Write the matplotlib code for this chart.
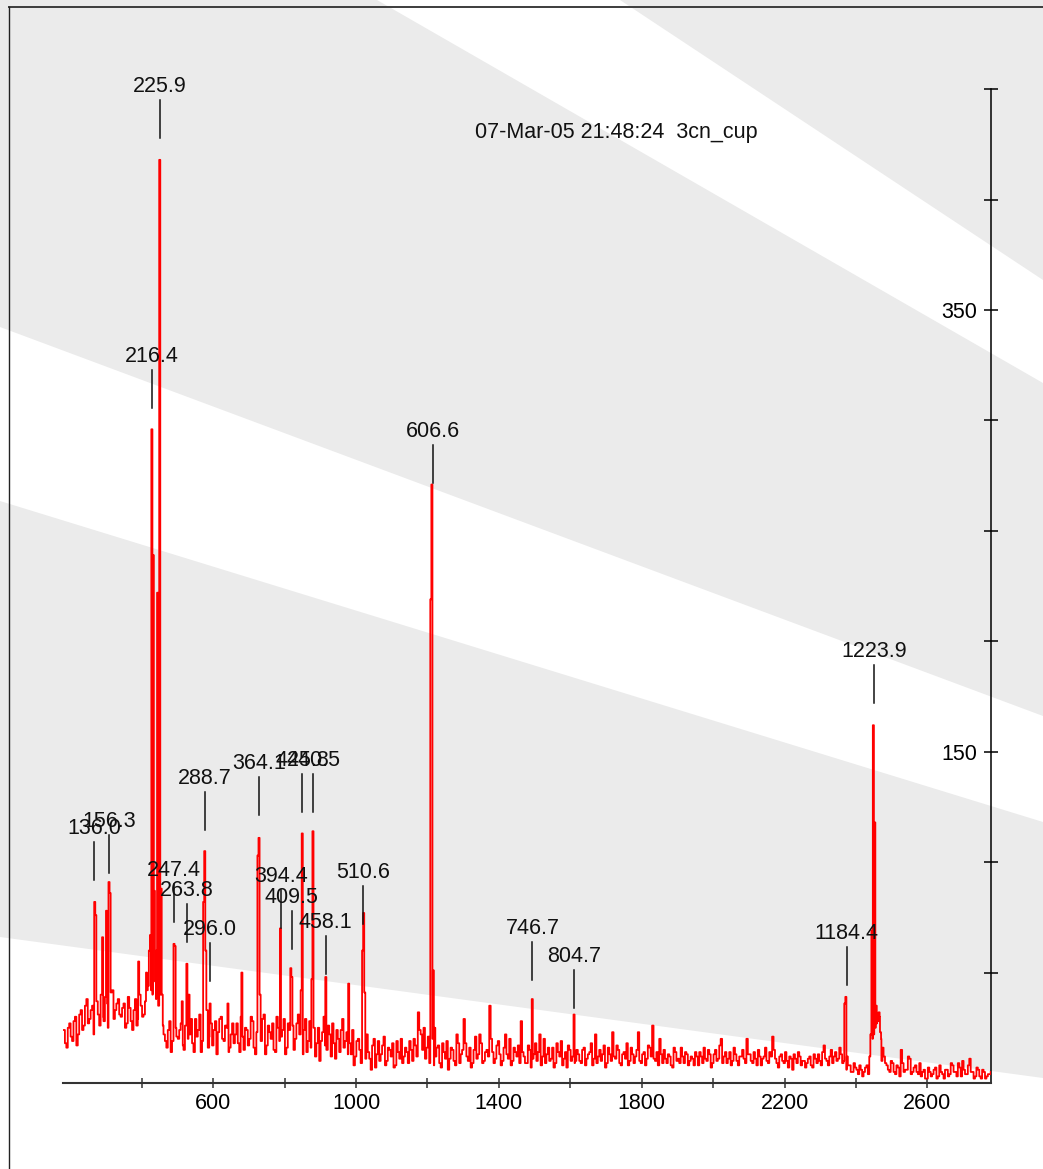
import numpy as np
import matplotlib
matplotlib.use("Agg")
import matplotlib.pyplot as plt
from matplotlib.patches import Polygon
from matplotlib.lines import Line2D

plt.rcParams['font.family'] = ['Liberation Sans', 'DejaVu Sans']

# ---- data ----
title = "07-Mar-05 21:48:24  3cn_cup"

# baseline trace: counts at channels 181, 189, 197, ... (a) and 185, 193, 201, ... (b)
base_start = 181
base_step = 4
baseline_a = [
    24, 16, 27, 19, 30, 22, 33, 26, 38, 29, 35, 24, 31, 40, 28, 36, 30, 42, 33, 38,
    30, 36, 27, 34, 24, 38, 29, 35, 31, 42, 45, 40, 38, 35, 30, 22, 16, 28, 19, 25,
    20, 27, 15, 31, 22, 18, 29, 24, 14, 26, 33, 21, 17, 28, 23, 30, 19, 25, 16, 27,
    22, 18, 30, 15, 24, 20, 28, 13, 26, 19, 31, 17, 23, 27, 14, 25, 21, 29, 16, 24,
    26, 20, 31, 17, 24, 14, 28, 21, 12, 25, 19, 30, 15, 22, 27, 11, 20, 24, 16, 23,
    18, 24, 12, 20, 9, 16, 22, 11, 17, 7, 19, 13, 21, 10, 15, 18, 8, 14, 20, 12,
    14, 19, 10, 17, 32, 22, 25, 16, 9, 20, 12, 17, 7, 14, 19, 11, 15, 8, 18, 13,
    29, 12, 16, 9, 21, 13, 18, 10, 15, 35, 14, 11, 19, 8, 16, 13, 20, 10, 14, 17,
    28, 12, 9, 15, 11, 18, 14, 8, 20, 13, 10, 16, 9, 14, 19, 11, 7, 15, 12, 10,
    13, 9, 16, 11, 14, 8, 22, 12, 10, 17, 9, 13, 23, 11, 15, 8, 14, 18, 10, 13,
    12, 23, 9, 14, 11, 16, 26, 10, 8, 13, 15, 9, 12, 7, 14, 11, 16, 9, 13, 10,
    11, 14, 8, 12, 16, 10, 13, 9, 15, 11, 20, 12, 9, 14, 10, 13, 8, 12, 11, 20,
    13, 9, 11, 15, 8, 12, 10, 14, 21, 11, 7, 13, 9, 10, 12, 6, 11, 14, 8, 10,
    9, 12, 7, 11, 13, 8, 17, 10, 12, 9, 14, 11, 13, 10, 6, 8, 5, 7, 4, 6,
    5, 8, 12, 20, 25, 28, 20, 12, 8, 5, 9, 4, 7, 15, 5, 6, 11, 5, 8, 4,
    3, 6, 2, 5, 4, 7, 3, 5, 2, 6, 4, 8, 5, 9, 3, 6, 4, 11, 5, 3,
    6, 2, 5, 3, 4,
]
baseline_b = [
    18, 25, 21, 28, 17, 31, 24, 35, 27, 33, 22, 37, 26, 30, 39, 25, 41, 29, 36, 31,
    34, 25, 39, 28, 33, 26, 40, 30, 37, 44, 42, 48, 36, 40, 26, 19, 24, 14, 27, 21,
    24, 17, 26, 20, 29, 14, 21, 31, 19, 23, 16, 27, 24, 13, 29, 20, 26, 14, 22, 18,
    27, 14, 21, 25, 17, 30, 16, 23, 18, 29, 13, 26, 20, 15, 30, 19, 24, 13, 27, 20,
    15, 27, 22, 13, 29, 19, 16, 25, 18, 10, 23, 17, 26, 12, 18, 24, 14, 29, 19, 13,
    13, 8, 19, 15, 21, 11, 14, 6, 20, 13, 10, 17, 8, 16, 12, 7, 19, 11, 9, 16,
    9, 15, 20, 12, 24, 15, 11, 21, 13, 8, 16, 9, 18, 11, 6, 16, 10, 22, 9, 15,
    18, 10, 7, 15, 11, 22, 9, 14, 12, 20, 9, 17, 13, 10, 22, 11, 8, 16, 12, 9,
    14, 9, 17, 7, 13, 10, 22, 12, 9, 16, 11, 7, 18, 12, 8, 14, 17, 10, 9, 15,
    10, 15, 8, 13, 18, 11, 9, 15, 13, 7, 16, 10, 12, 17, 9, 13, 11, 8, 16, 9,
    15, 10, 13, 8, 17, 12, 11, 14, 20, 9, 11, 13, 8, 16, 10, 9, 12, 14, 8, 12,
    8, 12, 14, 9, 11, 15, 7, 13, 10, 17, 9, 14, 11, 8, 16, 10, 12, 15, 9, 13,
    10, 14, 8, 12, 11, 16, 9, 12, 15, 9, 12, 10, 14, 7, 11, 13, 9, 12, 10, 7,
    11, 8, 13, 9, 10, 14, 11, 8, 15, 12, 10, 16, 9, 13, 8, 5, 9, 6, 8, 3,
    7, 4, 15, 22, 27, 30, 16, 9, 6, 10, 5, 8, 3, 9, 6, 12, 4, 7, 5, 9,
    5, 2, 7, 3, 6, 2, 8, 4, 6, 3, 9, 5, 3, 7, 10, 4, 8, 5, 2, 7,
    3, 6, 2, 4, 5,
]

# narrow peaks on top of the baseline (channel, counts)
spike_ch = [267, 270, 289, 300, 307, 310, 390, 412,
            420, 423, 427, 431, 434, 437, 441, 443, 449, 453, 456,
            489, 492, 512, 525, 531, 572, 575, 578, 590, 640, 679,
            724, 727, 730, 787, 816, 819, 845, 848, 875, 878, 914, 978,
            1017, 1020, 1023, 1208, 1211, 1215, 1219, 1492, 1609,
            2367, 2370, 2374,
            2440, 2443, 2447, 2451, 2455, 2459, 2463, 2467, 2471]
spike_h = [82, 76, 66, 78, 91, 86, 55, 50,
           60, 67, 296, 239, 87, 46, 60, 222, 418, 88, 40,
           63, 62, 37, 54, 40, 82, 105, 60, 36, 36, 50,
           103, 111, 40, 70, 52, 48, 42, 113, 47, 114, 48, 45,
           60, 77, 41, 219, 271, 51, 25, 38, 31,
           36, 39, 12,
           22, 69, 162, 118, 35, 30, 32, 23, 10]

# peak labels: text, channel, level where the marker line starts
peak_labels = ["136.0", "156.3", "216.4", "225.9", "247.4", "263.8", "288.7",
               "296.0", "364.1", "394.4", "409.5", "425.8", "440.5", "458.1",
               "510.6", "606.6", "746.7", "804.7", "1184.4", "1223.9"]
peak_pos = [267.3, 308.5, 428.9, 451.3, 490.5, 526.0, 577.3, 591.3, 728.5,
            789.3, 820.0, 849.8, 879.8, 915.3, 1020.6, 1214.4, 1493.8,
            1610.6, 2374.3, 2450.7]
peak_mark = [91.9, 95.1, 305.6, 427.9, 72.9, 63.8, 114.6, 46.2, 121.4, 70.2,
             60.7, 122.7, 122.7, 49.4, 72.0, 271.5, 46.6, 34.0, 44.4, 172.1]

x_ticks = [600, 1000, 1400, 1800, 2200, 2600]
x_minor = [400, 800, 1200, 1600, 2000, 2400]
y_ticks = [50, 100, 150, 200, 250, 300, 350, 400, 450]
y_labeled = [150, 350]

# ---- build the step trace ----
base = np.column_stack([baseline_a, baseline_b]).ravel().astype(float)
chan = base_start + base_step * np.arange(len(base))
sx = np.array(spike_ch, dtype=float)
sh = np.array(spike_h, dtype=float)
width = 3.0

keep = np.ones(len(chan), bool)
for c in sx:
    keep &= ~((chan >= c) & (chan < c + width))
ret_x = sx + width
inside = np.array([np.any((r >= sx) & (r < sx + width)) for r in ret_x])
ret_x = ret_x[~inside]
idx = np.clip(((ret_x - base_start) // base_step).astype(int), 0, len(base) - 1)
ret_y = base[idx]

tx = np.concatenate([chan[keep], sx, ret_x])
ty = np.concatenate([base[keep], sh, ret_y])
order = np.argsort(tx, kind="stable")
tx, ty = tx[order], ty[order]

# ---- figure ----
W, H = 1043, 1169
fig = plt.figure(figsize=(W / 100, H / 100), dpi=100)
fig.patch.set_facecolor("#ebebeb")


def fp(pts):
    return [(x / W, 1 - y / H) for x, y in pts]


for poly in ([(377, 0), (620, 0), (1043, 280), (1043, 383)],
             [(0, 327), (1043, 716), (1043, 822), (0, 501)],
             [(0, 937), (1043, 1078), (1043, 1169), (0, 1169)]):
    fig.patches.append(Polygon(fp(poly), closed=True, transform=fig.transFigure,
                               facecolor="white", edgecolor="none", zorder=-5))

fig.lines.append(Line2D([9 / W, 1], [1 - 7 / H, 1 - 7 / H], transform=fig.transFigure,
                        color="#3c3c3c", lw=1.4, zorder=-4))
fig.lines.append(Line2D([9 / W, 9 / W], [1 - 7 / H, 0], transform=fig.transFigure,
                        color="#222222", lw=1.0, zorder=-4))

ax = fig.add_axes([63.3 / W, (H - 1083) / H, (990.7 - 63.3) / W, 490 * 2.2085 / H])
ax.set_zorder(2)
ax.patch.set_alpha(0)
ax.set_xlim(180.5, 2777)
ax.set_ylim(0, 490)

ax.plot(tx, ty, drawstyle="steps-post", color="#ff0000", lw=1.3, zorder=3)

for lab, px, py in zip(peak_labels, peak_pos, peak_mark):
    ax.plot([px, px], [py, py + 17.2], color="#111111", lw=1.1, zorder=4)
    ax.text(px, py + 20.8, lab, ha="center", va="baseline", fontsize=15.5,
            color="#111111", zorder=5, clip_on=False)

# axes styling
ax.spines["top"].set_visible(False)
ax.spines["right"].set_visible(False)
ax.spines["left"].set_position(("axes", 1.0))
ax.spines["left"].set_bounds(0, 450)
ax.spines["left"].set_linewidth(1.1)
ax.spines["bottom"].set_color("#333333")
ax.spines["bottom"].set_linewidth(1.5)

ax.set_xticks(x_ticks)
ax.set_xticks(x_minor, minor=True)
ax.set_xticklabels([str(v) for v in x_ticks])
ax.tick_params(axis="x", which="both", direction="inout", length=7, width=1.1,
               color="#333333", labelsize=15.5, pad=3.5)

ax.set_yticks(y_ticks)
ax.set_yticklabels([str(v) if v in y_labeled else "" for v in y_ticks])
ax.tick_params(axis="y", direction="inout", length=10, width=1.1,
               labelsize=15.5, pad=5)

fig.text(616 / W, 1 - 138.3 / H, title, ha="center", va="baseline",
         fontsize=15.5, color="#111111")

fig.savefig("out.png", dpi=100, facecolor=fig.get_facecolor())
